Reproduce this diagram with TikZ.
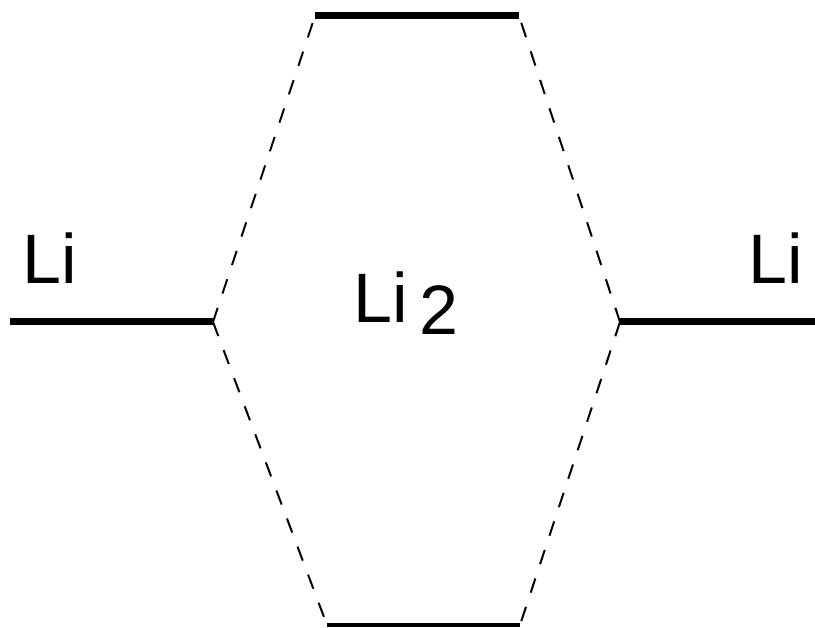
\documentclass[tikz,border=0pt]{standalone}
\usepackage{fontspec}
\setmainfont{Liberation Sans}
\begin{document}
\begin{tikzpicture}[x=1pt,y=-1pt,
  level/.style={line width=7pt},
  lowlevel/.style={line width=4pt},
  corr/.style={line width=2pt,dash pattern=on 15pt off 15pt},
  lbl/.style={inner sep=0pt,font=\fontsize{70}{70}\selectfont}]
\useasboundingbox (0,0) rectangle (815,628);
\coordinate (la) at (10,322);
\coordinate (lb) at (213,322);
\coordinate (ra) at (620,322);
\coordinate (rb) at (815,322);
\coordinate (ta) at (315,16);
\coordinate (tb) at (519,16);
\coordinate (ba) at (327,625);
\coordinate (bb) at (520,625);
\draw[level] (la) -- (lb);
\draw[level] (ra) -- (rb);
\draw[level] (ta) -- (tb);
\draw[lowlevel] (ba) -- (bb);
\draw[corr] (lb) -- (ta);
\draw[corr] (lb) -- (ba);
\draw[corr] (ra) -- (tb);
\draw[corr] (ra) -- (bb);
\node[lbl,anchor=base west] (l1) at (22,284) {Li};
\node[lbl,anchor=base west] (l2) at (748,284) {Li};
\node[lbl,anchor=base west] (m) at (353,323) {Li\,\raisebox{-12pt}{2}};
\end{tikzpicture}
\end{document}
